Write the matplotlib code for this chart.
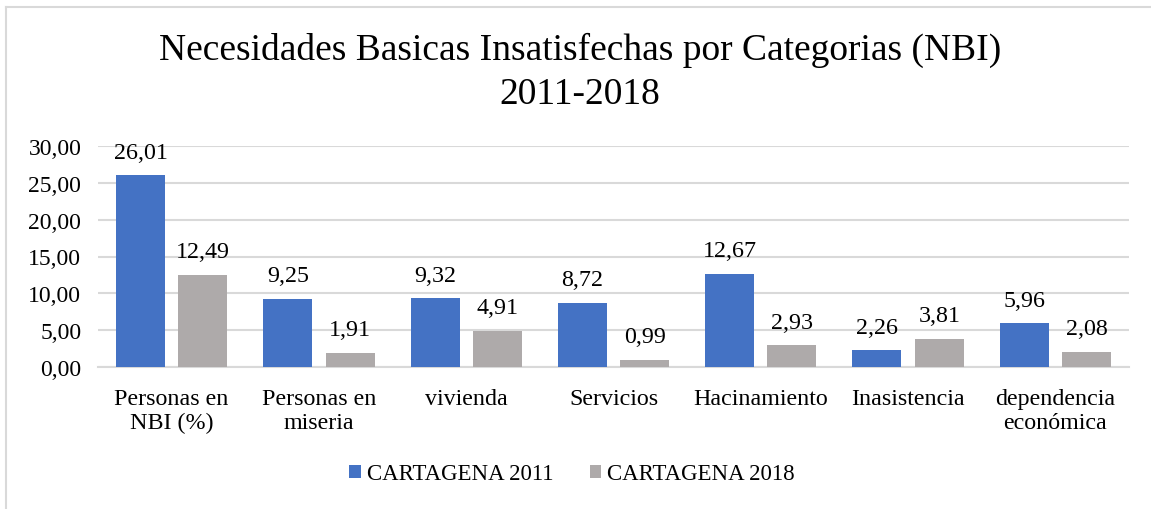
import matplotlib.pyplot as plt
from matplotlib.lines import Line2D
import numpy as np

categorias = ["Personas en\nNBI (%)", "Personas en\nmiseria", "vivienda", "Servicios",
              "Hacinamiento", "Inasistencia", "dependencia\neconómica"]
cartagena_2011 = [26.01, 9.25, 9.32, 8.72, 12.67, 2.26, 5.96]
cartagena_2018 = [12.49, 1.91, 4.91, 0.99, 2.93, 3.81, 2.08]
series = ["CARTAGENA 2011", "CARTAGENA 2018"]
y_ticks = [0, 5, 10, 15, 20, 25, 30]

plt.rcParams['font.family'] = ['Liberation Serif', 'DejaVu Serif']

def fmt(v):
    return f"{v:.2f}".replace(".", ",")

fig = plt.figure(figsize=(11.51, 5.10), dpi=100)
ax = fig.add_axes([98 / 1151, 1 - 368 / 510, (1129 - 98) / 1151, (368 - 147) / 510])

x = np.arange(len(categorias))
w = 0.333
off = 0.2114
b1 = ax.bar(x - off, cartagena_2011, w, color='#4472C4', label=series[0], zorder=3)
b2 = ax.bar(x + off, cartagena_2018, w, color='#AEAAAA', label=series[1], zorder=3)

for bars, vals in ((b1, cartagena_2011), (b2, cartagena_2018)):
    for r, v in zip(bars, vals):
        ax.annotate(fmt(v), (r.get_x() + r.get_width() / 2, v), xytext=(0, 9),
                    textcoords='offset points', ha='center', va='bottom', fontsize=17.3)

ax.set_xlim(-0.5, len(categorias) - 0.5)
ax.set_ylim(0, 30)
ax.set_yticks(y_ticks)
ax.set_yticklabels([fmt(t) for t in y_ticks], fontsize=17)
ax.set_xticks(x)
ax.set_xticklabels(categorias, fontsize=17.3, linespacing=1.2)
ax.tick_params(length=0, pad=12)
ax.tick_params(axis='x', pad=15)
ax.yaxis.grid(True, color='#D9D9D9', linewidth=1.5, zorder=0)
for s in ['top', 'right', 'left']:
    ax.spines[s].set_visible(False)
ax.spines['bottom'].set_color('#D9D9D9')
ax.spines['bottom'].set_linewidth(1.5)

fig.text(0.504, 1 - 50 / 510, "Necesidades Basicas Insatisfechas por Categorias (NBI)",
         ha='center', va='center', fontsize=27)
fig.text(0.504, 1 - 95 / 510, "2011-2018", ha='center', va='center', fontsize=27)

fig.legend(handles=[b1, b2], loc='center', bbox_to_anchor=(572 / 1151, 1 - 475 / 510),
           ncol=2, frameon=False, fontsize=16.5, handlelength=0.5, handleheight=0.5,
           handletextpad=0.25, columnspacing=1.6)

# chart border
fig.add_artist(Line2D([6 / 1151, 1], [1 - 8 / 510, 1 - 8 / 510], color='#D9D9D9', lw=1.5))
fig.add_artist(Line2D([6 / 1151, 6 / 1151], [0, 1 - 8 / 510], color='#D9D9D9', lw=1.5))

fig.savefig('out.png', dpi=100)
